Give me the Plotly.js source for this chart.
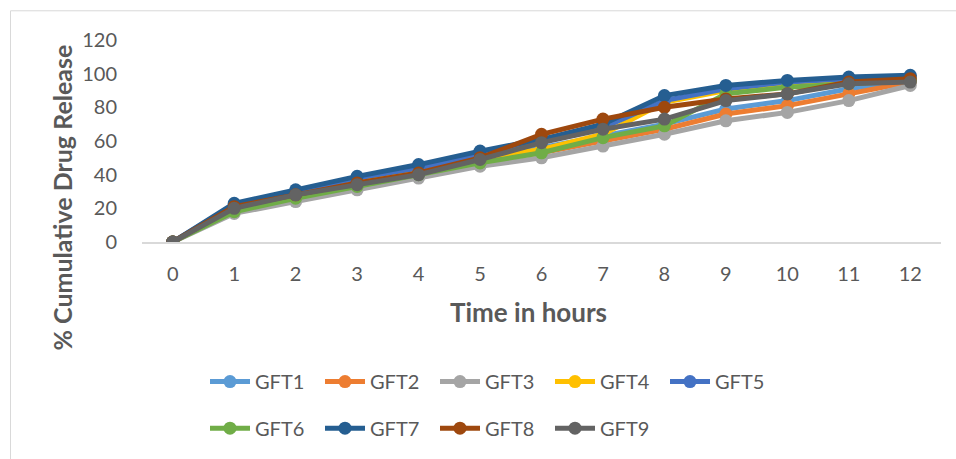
<!DOCTYPE html>
<html>
<head>
<meta charset="utf-8">
<script src="https://cdn.plot.ly/plotly-3.0.1.min.js"></script>
<style>
  html, body { margin: 0; padding: 0; background: #ffffff; }
  #chart { width: 956px; height: 459px; }
</style>
</head>
<body>
<div id="chart"></div>
<script>
const hours = [0, 1, 2, 3, 4, 5, 6, 7, 8, 9, 10, 11, 12];
const seriesNames = ["GFT1", "GFT2", "GFT3", "GFT4", "GFT5", "GFT6", "GFT7", "GFT8", "GFT9"];
const GFT1 = [0, 20, 27, 35, 42, 49, 56, 63, 70, 79, 84, 91, 96];
const GFT2 = [0, 19, 26, 34, 41, 48, 53, 60, 67, 76, 81, 88, 95];
const GFT3 = [0, 17, 24, 31, 38, 45, 50, 57, 64, 72, 77, 84, 93];
const GFT4 = [0, 21, 28, 36, 43, 50, 55, 64, 83, 90, 94, 96, 97];
const GFT5 = [0, 22, 30, 38, 44, 52, 60, 68, 84, 91, 95, 97, 98];
const GFT6 = [0, 18, 26, 33, 40, 47, 53, 62, 69, 88, 92, 94, 96];
const GFT7 = [0, 23, 31, 39, 46, 54, 61, 70, 87, 93, 96, 98, 99];
const GFT8 = [0, 21, 28, 35, 41, 50, 64, 73, 80, 85, 88, 95, 97];
const GFT9 = [0, 20, 28, 34, 40, 49, 59, 67, 73, 84, 88, 94, 95];
const seriesValues = [GFT1, GFT2, GFT3, GFT4, GFT5, GFT6, GFT7, GFT8, GFT9];
const seriesColors = ["#5B9BD5", "#ED7D31", "#A5A5A5", "#FFC000", "#4472C4", "#70AD47", "#255E91", "#9E480E", "#636363"];
const yTicks = [0, 20, 40, 60, 80, 100, 120];
const xTitle = "Time in hours";
const yTitle = "% Cumulative Drug Release";

const FONT = "Lato, 'Open Sans', sans-serif";
const TXT = "#595959";

const traces = seriesNames.map((name, i) => ({
  type: "scatter",
  mode: "lines+markers",
  name: name,
  x: hours,
  y: seriesValues[i],
  line: { color: seriesColors[i], width: 5 },
  marker: { color: seriesColors[i], size: 13 },
  legend: i < 5 ? "legend" : "legend2",
  hoverinfo: "x+y+name"
}));

// plot area in px
const L = 142, R = 941, T = 40, B = 244;
const W = 956, H = 459;
const fx = px => (px - L) / (R - L);
const fy = py => (B - py) / (B - T);

const legendCommon = {
  orientation: "h",
  xanchor: "left",
  yanchor: "middle",
  font: { family: FONT, size: 20, color: TXT },
  bgcolor: "rgba(0,0,0,0)",
  entrywidth: 60,
  entrywidthmode: "pixels",
  itemwidth: 40,
  tracegroupgap: 0,
  traceorder: "normal"
};

const layout = {
  width: W,
  height: H,
  paper_bgcolor: "#ffffff",
  plot_bgcolor: "#ffffff",
  margin: { l: L, r: W - R, t: T, b: H - B, pad: 0 },
  font: { family: FONT, size: 20, color: TXT },
  xaxis: {
    range: [-0.5, 12.5],
    tickmode: "array",
    tickvals: hours,
    ticktext: hours.map(String),
    showgrid: false,
    zeroline: false,
    showline: true,
    linecolor: "#D9D9D9",
    linewidth: 1.5,
    ticks: "outside",
    ticklen: 13,
    tickcolor: "rgba(0,0,0,0)",
    tickfont: { family: FONT, size: 20, color: TXT }
  },
  yaxis: {
    range: [0, 120],
    tickmode: "array",
    tickvals: yTicks,
    showgrid: false,
    zeroline: false,
    showline: false,
    ticks: "outside",
    ticklen: 20,
    tickcolor: "rgba(0,0,0,0)",
    tickfont: { family: FONT, size: 20, color: TXT }
  },
  annotations: [
    {
      text: xTitle, xref: "paper", yref: "paper",
      x: fx(528), y: fy(315), xanchor: "center", yanchor: "middle",
      showarrow: false,
      font: { family: FONT, size: 26, color: TXT, weight: "bold" }
    },
    {
      text: yTitle, xref: "paper", yref: "paper",
      x: fx(62), y: fy(199), xanchor: "center", yanchor: "middle",
      textangle: -90, showarrow: false,
      font: { family: FONT, size: 25, color: TXT, weight: "bold" }
    }
  ],
  legend: Object.assign({}, legendCommon, { x: fx(205), y: fy(385) }),
  legend2: Object.assign({}, legendCommon, { x: fx(205), y: fy(432) }),
  shapes: [{
    type: "rect",
    xref: "paper", yref: "paper",
    x0: fx(10.5), x1: fx(990), y0: fy(490), y1: fy(10.5),
    line: { color: "#D9D9D9", width: 1 },
    fillcolor: "rgba(0,0,0,0)",
    layer: "below"
  }],
  showlegend: true
};

Plotly.newPlot("chart", traces, layout, { displayModeBar: false, staticPlot: true });
</script>
</body>
</html>
